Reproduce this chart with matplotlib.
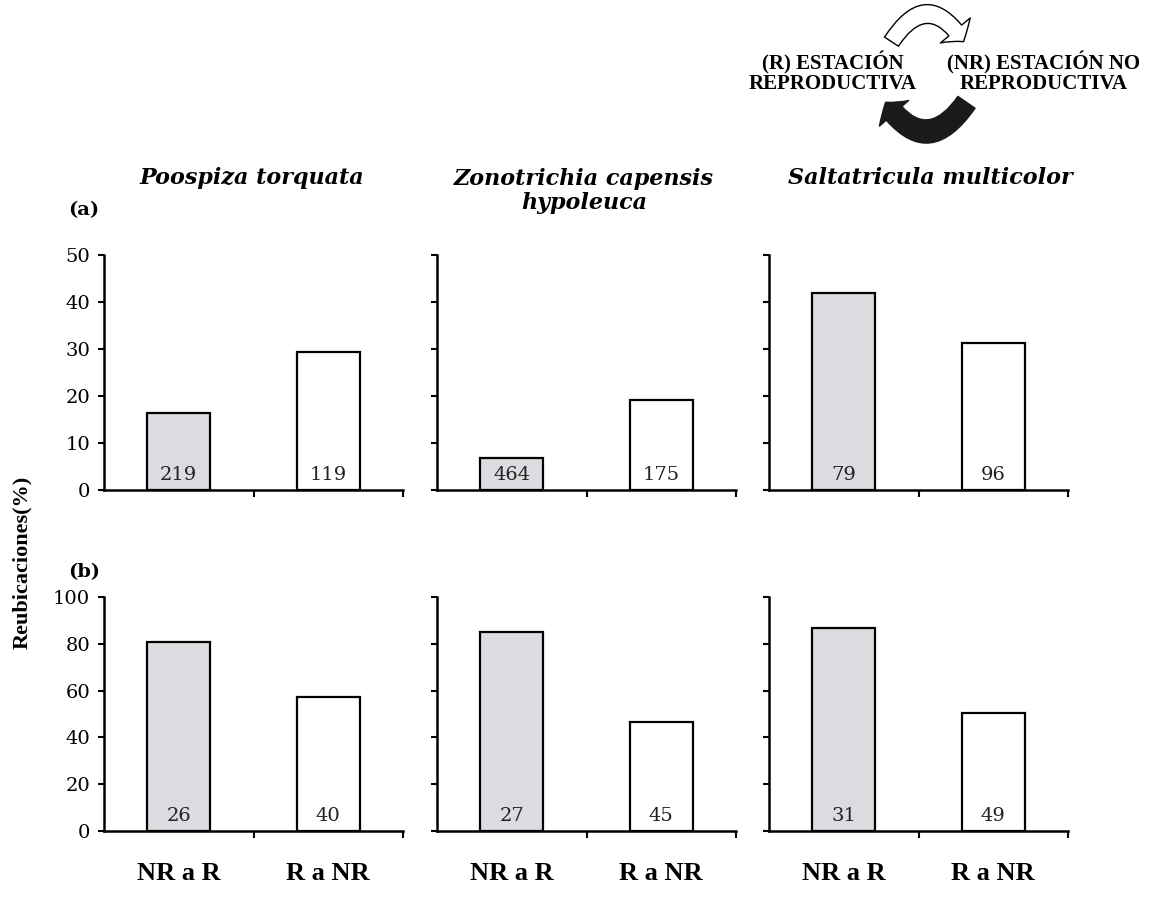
import matplotlib
matplotlib.use("Agg")
import matplotlib.pyplot as plt
from matplotlib.patches import FancyArrowPatch

# Reubicaciones entre estaciones, por especie
species = ["Poospiza torquata", "Zonotrichia capensis\nhypoleuca",
           "Saltatricula multicolor"]
categories = ["NR a R", "R a NR"]

pct_a = [[16.4, 29.4], [6.8, 19.1], [41.9, 31.3]]
n_a   = [[219, 119], [464, 175], [79, 96]]

pct_b = [[80.8, 57.3], [85.0, 46.6], [86.8, 50.4]]
n_b   = [[26, 40], [27, 45], [31, 49]]

yticks_a = [0, 10, 20, 30, 40, 50]
yticks_b = [0, 20, 40, 60, 80, 100]

BAR_COLORS = ["#dcdbe0", "white"]
W, H = 1153, 919

fig = plt.figure(figsize=(W / 100, H / 100), dpi=100)
fig.patch.set_facecolor("white")


def px(x, y):
    return x / W, 1 - y / H


col_left = [104, 437, 769]
col_w = 299
rows = [(255, 490), (597, 831)]


def draw_panel(ax, vals, counts, yticks, show_ylabels, show_xlabels):
    x = range(len(categories))
    ax.bar(x, vals, width=0.42, color=BAR_COLORS,
           edgecolor="black", linewidth=1.6, zorder=2)
    for xi, n in zip(x, counts):
        ax.annotate(f"{n}", (xi, 0), xytext=(0, 7),
                    textcoords="offset points", ha="center",
                    va="baseline", fontsize=14, family="DejaVu Serif",
                    color="#222222", zorder=3)
    ax.set_xlim(-0.5, 1.5)
    ax.set_ylim(yticks[0], yticks[-1])
    ax.set_yticks(yticks)
    if show_ylabels:
        ax.set_yticklabels([str(t) for t in yticks],
                           family="DejaVu Serif", fontsize=14)
    else:
        ax.set_yticklabels([])
    ax.set_xticks([0.5, 1.5], minor=True)
    ax.set_xticks(list(x))
    if show_xlabels:
        ax.set_xticklabels(categories, family="Liberation Serif",
                           fontweight="bold", fontsize=19)
    else:
        ax.set_xticklabels([])
    ax.tick_params(axis="x", which="major", length=0, pad=22)
    ax.tick_params(axis="x", which="minor", length=5, width=1.5,
                   direction="out")
    ax.tick_params(axis="y", length=4, width=1.5, direction="out", pad=6)
    for s in ["top", "right"]:
        ax.spines[s].set_visible(False)
    for s in ["left", "bottom"]:
        ax.spines[s].set_linewidth(1.8)
    ax.set_facecolor("none")


for r, (top, bottom) in enumerate(rows):
    vals_all = pct_a if r == 0 else pct_b
    n_all = n_a if r == 0 else n_b
    yt = yticks_a if r == 0 else yticks_b
    for c in range(3):
        l, b = px(col_left[c], bottom)
        ax = fig.add_axes([l, b, col_w / W, (bottom - top) / H])
        draw_panel(ax, vals_all[c], n_all[c], yt, c == 0, r == 1)

# species names above each column
title_pos = [(252, 178), (584, 191), (930, 178)]
for name, (tx, ty) in zip(species, title_pos):
    fig.text(*px(tx, ty), name, ha="center", va="center",
             family="DejaVu Serif", style="italic", fontweight="bold",
             fontsize=16, linespacing=1.15)

fig.text(*px(84, 210), "(a)", ha="center", va="center",
         family="DejaVu Serif", fontweight="bold", fontsize=14)
fig.text(*px(84, 572), "(b)", ha="center", va="center",
         family="DejaVu Serif", fontweight="bold", fontsize=14)

fig.text(*px(22, 562), "Reubicaciones(%)", rotation=90,
         ha="center", va="center", family="Liberation Serif",
         fontweight="bold", fontsize=16)

# season cycle diagram
fig.text(*px(833, 73), "(R) ESTACIÓN\nREPRODUCTIVA", ha="center",
         va="center", family="Liberation Serif", fontweight="bold",
         fontsize=15, linespacing=0.95)
fig.text(*px(1044, 73), "(NR) ESTACIÓN NO\nREPRODUCTIVA", ha="center",
         va="center", family="Liberation Serif", fontweight="bold",
         fontsize=15, linespacing=0.95)

top_arrow = FancyArrowPatch(
    px(890, 44), px(965, 44), transform=fig.transFigure,
    connectionstyle="arc3,rad=-0.8",
    arrowstyle="simple,head_width=28,head_length=10,tail_width=12",
    facecolor="white", edgecolor="black", linewidth=1.0)
bot_arrow = FancyArrowPatch(
    px(968, 100), px(884, 100), transform=fig.transFigure,
    connectionstyle="arc3,rad=-0.75",
    arrowstyle="simple,head_width=28,head_length=10,tail_width=15",
    facecolor="#1a1a1a", edgecolor="#1a1a1a", linewidth=1.0)
fig.patches.extend([top_arrow, bot_arrow])

plt.savefig("out.png", dpi=100, facecolor="white")
plt.close()
